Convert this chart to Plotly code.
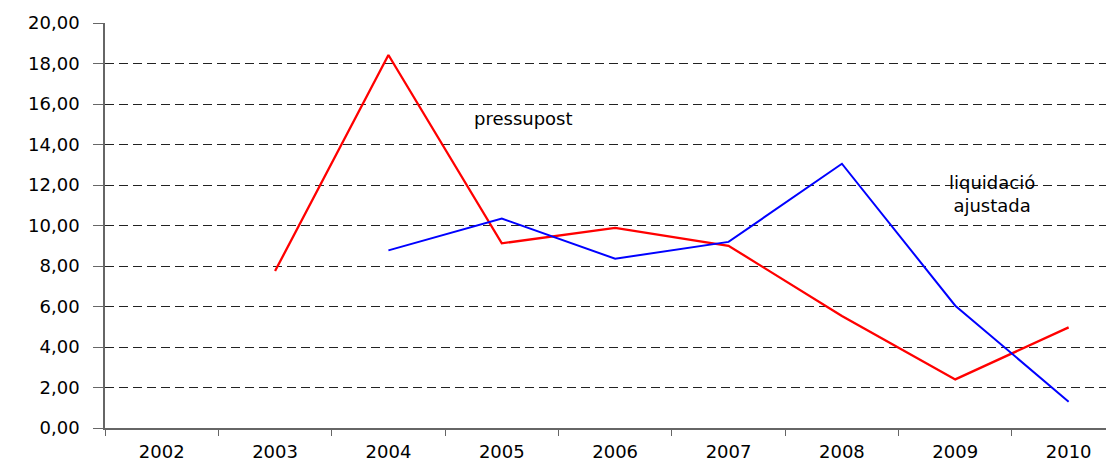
import plotly.graph_objects as go

years = ["2002", "2003", "2004", "2005", "2006", "2007", "2008", "2009", "2010"]
pressupost = [None, 7.75, 18.42, 9.12, 9.88, 9.00, 5.53, 2.40, 4.97]
liquidacio = [None, None, 8.77, 10.34, 8.36, 9.19, 13.05, 6.04, 1.30]
y_ticks = [0, 2, 4, 6, 8, 10, 12, 14, 16, 18, 20]

FONT = "DejaVu Sans"

fig = go.Figure()
fig.add_trace(go.Scatter(x=years, y=pressupost, mode="lines",
                         line=dict(color="#ff0000", width=2.3), connectgaps=False,
                         name="pressupost"))
fig.add_trace(go.Scatter(x=years, y=liquidacio, mode="lines",
                         line=dict(color="#0000ff", width=2), connectgaps=False,
                         name="liquidació ajustada"))

fig.add_annotation(x=3.19, y=15.26, xref="x", yref="y", text="pressupost",
                   showarrow=False, font=dict(family=FONT, size=18, color="black"))
fig.add_annotation(x=7.32, y=11.55, xref="x", yref="y", text="liquidació<br>ajustada",
                   showarrow=False, font=dict(family=FONT, size=18, color="black"))

# page body has an 8px default margin, so the figure is drawn 8px in from the top-left
fig.update_layout(
    template="simple_white",
    width=1106, height=455,
    margin=dict(l=97, r=0, t=15, b=35, autoexpand=False),
    plot_bgcolor="white", paper_bgcolor="white",
    showlegend=False,
    separators=",.",
    font=dict(family=FONT, size=18, color="black"),
)
fig.update_xaxes(
    type="category", categoryorder="array", categoryarray=years,
    range=[-0.5, 8.4], automargin=False,
    showline=True, linecolor="#666666", linewidth=2,
    ticks="outside", tickson="boundaries", ticklen=6, tickcolor="#666666",
    showgrid=False, zeroline=False,
    ticklabelstandoff=6,
    tickfont=dict(family=FONT, size=18, color="black"),
)
fig.update_yaxes(
    range=[0, 20], tickvals=y_ticks, tickformat=".2f", automargin=False,
    showline=True, linecolor="#666666", linewidth=1.5,
    ticks="outside", ticklen=10, tickcolor="#666666",
    showgrid=True, gridcolor="#222222", gridwidth=1, griddash="9px,5px",
    zeroline=False,
    ticklabelstandoff=10,
    tickfont=dict(family=FONT, size=18, color="black"),
)

fig.write_html("out.html")
